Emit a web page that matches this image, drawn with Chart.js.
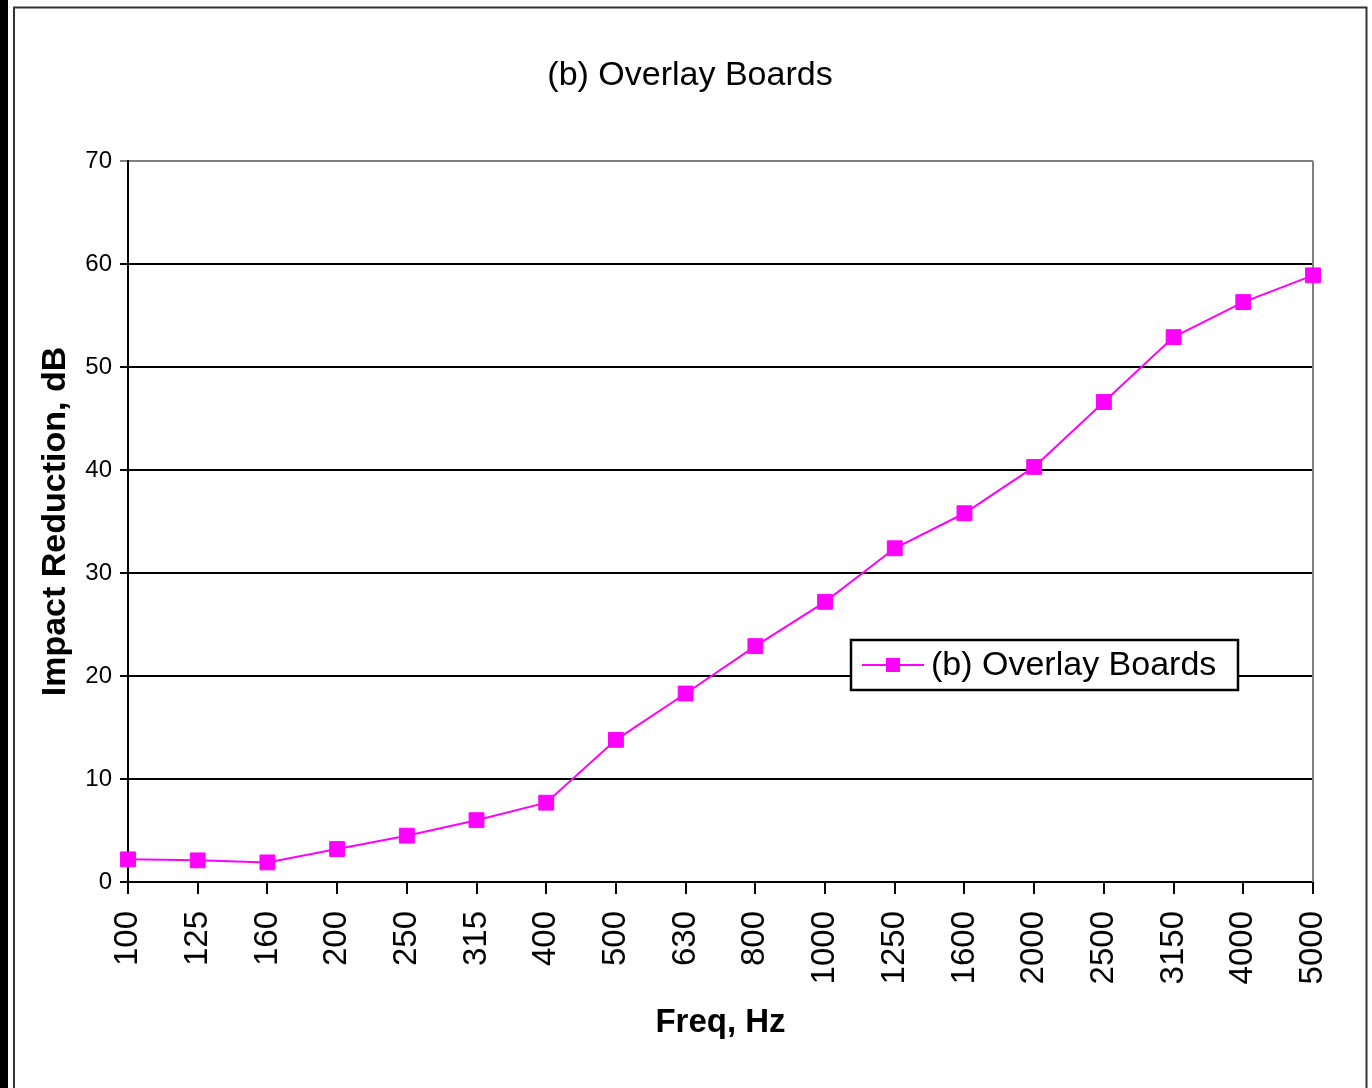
<!DOCTYPE html>
<html>
<head>
<meta charset="utf-8">
<script src="https://cdn.jsdelivr.net/npm/chart.js@4/dist/chart.umd.min.js"></script>
<style>
  html, body { margin: 0; padding: 0; background: #fff; }
  #wrap { width: 1372px; height: 1088px; position: relative; }
</style>
</head>
<body>
<div id="wrap"><canvas id="c" width="1372" height="1088"></canvas></div>
<script>
const chartTitle = "(b) Overlay Boards";
const seriesLabel = "(b) Overlay Boards";
const frequencies = ["100","125","160","200","250","315","400","500","630","800","1000","1250","1600","2000","2500","3150","4000","5000"];
const impactReduction = [2.2, 2.1, 1.9, 3.2, 4.5, 6.0, 7.7, 13.8, 18.3, 22.9, 27.2, 32.4, 35.8, 40.3, 46.6, 52.9, 56.3, 58.9];
const yTitle = "Impact Reduction, dB";
const xTitle = "Freq, Hz";
const yMin = 0, yMax = 70, yStep = 10;

const FONT = "'Liberation Sans', Arial, Helvetica, sans-serif";
const MAGENTA = "#FF00FF";

const framePlugin = {
  id: 'frame',
  beforeDraw(chart) {
    const ctx = chart.ctx;
    ctx.save();
    ctx.fillStyle = '#ffffff';
    ctx.fillRect(0, 0, chart.width, chart.height);
    ctx.fillStyle = '#000000';
    ctx.fillRect(0, 0, 8, chart.height);
    ctx.strokeStyle = '#333333';
    ctx.lineWidth = 2;
    ctx.beginPath();
    ctx.moveTo(14, chart.height + 5);
    ctx.lineTo(14, 7.5);
    ctx.lineTo(1366.5, 7.5);
    ctx.lineTo(1366.5, chart.height + 5);
    ctx.stroke();
    ctx.restore();
  },
  beforeDatasetsDraw(chart) {
    const {ctx, chartArea} = chart;
    ctx.save();
    ctx.strokeStyle = '#808080';
    ctx.lineWidth = 2;
    ctx.beginPath();
    ctx.moveTo(chartArea.right, chartArea.top);
    ctx.lineTo(chartArea.right, chartArea.bottom);
    ctx.stroke();
    ctx.restore();
  },
  afterDraw(chart) {
    const ctx = chart.ctx;
    const ds = chart.data.datasets[0];
    const bx = 851, by = 640, bw = 387, bh = 50;
    ctx.save();
    ctx.fillStyle = '#ffffff';
    ctx.fillRect(bx, by, bw, bh);
    ctx.strokeStyle = '#000000';
    ctx.lineWidth = 2.5;
    ctx.strokeRect(bx, by, bw, bh);
    const cy = by + bh / 2;
    ctx.strokeStyle = ds.borderColor;
    ctx.lineWidth = 2;
    ctx.beginPath();
    ctx.moveTo(862, cy);
    ctx.lineTo(924, cy);
    ctx.stroke();
    ctx.fillStyle = ds.pointBackgroundColor;
    ctx.fillRect(886, cy - 7, 14, 14);
    ctx.fillStyle = '#000000';
    ctx.font = '34px ' + FONT;
    ctx.textBaseline = 'middle';
    ctx.textAlign = 'left';
    ctx.fillText(ds.label, 931, cy + 1);
    ctx.restore();
  }
};

new Chart(document.getElementById('c'), {
  type: 'line',
  data: {
    labels: frequencies,
    datasets: [{
      label: seriesLabel,
      data: impactReduction,
      borderColor: MAGENTA,
      backgroundColor: MAGENTA,
      borderWidth: 2,
      pointStyle: 'rect',
      pointRadius: 10.5,
      pointBackgroundColor: MAGENTA,
      pointBorderColor: MAGENTA,
      pointBorderWidth: 1,
      tension: 0,
      fill: false
    }]
  },
  options: {
    responsive: false,
    animation: false,
    devicePixelRatio: 1,
    layout: { padding: { left: 8, top: 0, right: 0, bottom: 0 } },
    plugins: {
      legend: { display: false },
      tooltip: { enabled: false },
      title: {
        display: true,
        text: chartTitle,
        color: '#000',
        font: { family: FONT, size: 34, weight: 'normal', lineHeight: 1.2 },
        padding: { top: 55, bottom: 65.2 }
      }
    },
    scales: {
      x: {
        type: 'category',
        offset: false,
        grid: { display: true, drawOnChartArea: false, drawTicks: true, tickLength: 12, color: '#000', lineWidth: 2 },
        border: { display: true, color: '#000', width: 2 },
        ticks: {
          autoSkip: false, minRotation: 90, maxRotation: 90, padding: 17,
          color: '#000', font: { family: FONT, size: 33 }
        },
        title: {
          display: true, text: xTitle, color: '#000',
          font: { family: FONT, size: 33, weight: 'bold', lineHeight: 1.2 },
          padding: { top: 0, bottom: 45 }
        },
        afterFit(scale) { scale.height = 206; }
      },
      y: {
        min: yMin, max: yMax,
        grid: {
          color: (c) => (c.tick && c.tick.value === yMax) ? '#808080' : '#000',
          lineWidth: 2, tickLength: 8, drawTicks: true
        },
        border: { display: true, color: '#000', width: 2 },
        ticks: {
          stepSize: yStep, padding: 8, color: '#000',
          font: { family: FONT, size: 24 }
        },
        title: {
          display: true, text: yTitle, color: '#000',
          font: { family: FONT, size: 34, weight: 'bold', lineHeight: 1.2 },
          padding: { top: 27.6, bottom: 0 }
        },
        afterFit(scale) { scale.width = 120; }
      },
      yRight: {
        position: 'right',
        display: true,
        grid: { display: false, drawTicks: false },
        border: { display: false },
        ticks: { display: false },
        title: { display: false },
        afterFit(scale) { scale.width = 59; }
      }
    }
  },
  plugins: [framePlugin]
});
</script>
</body>
</html>
